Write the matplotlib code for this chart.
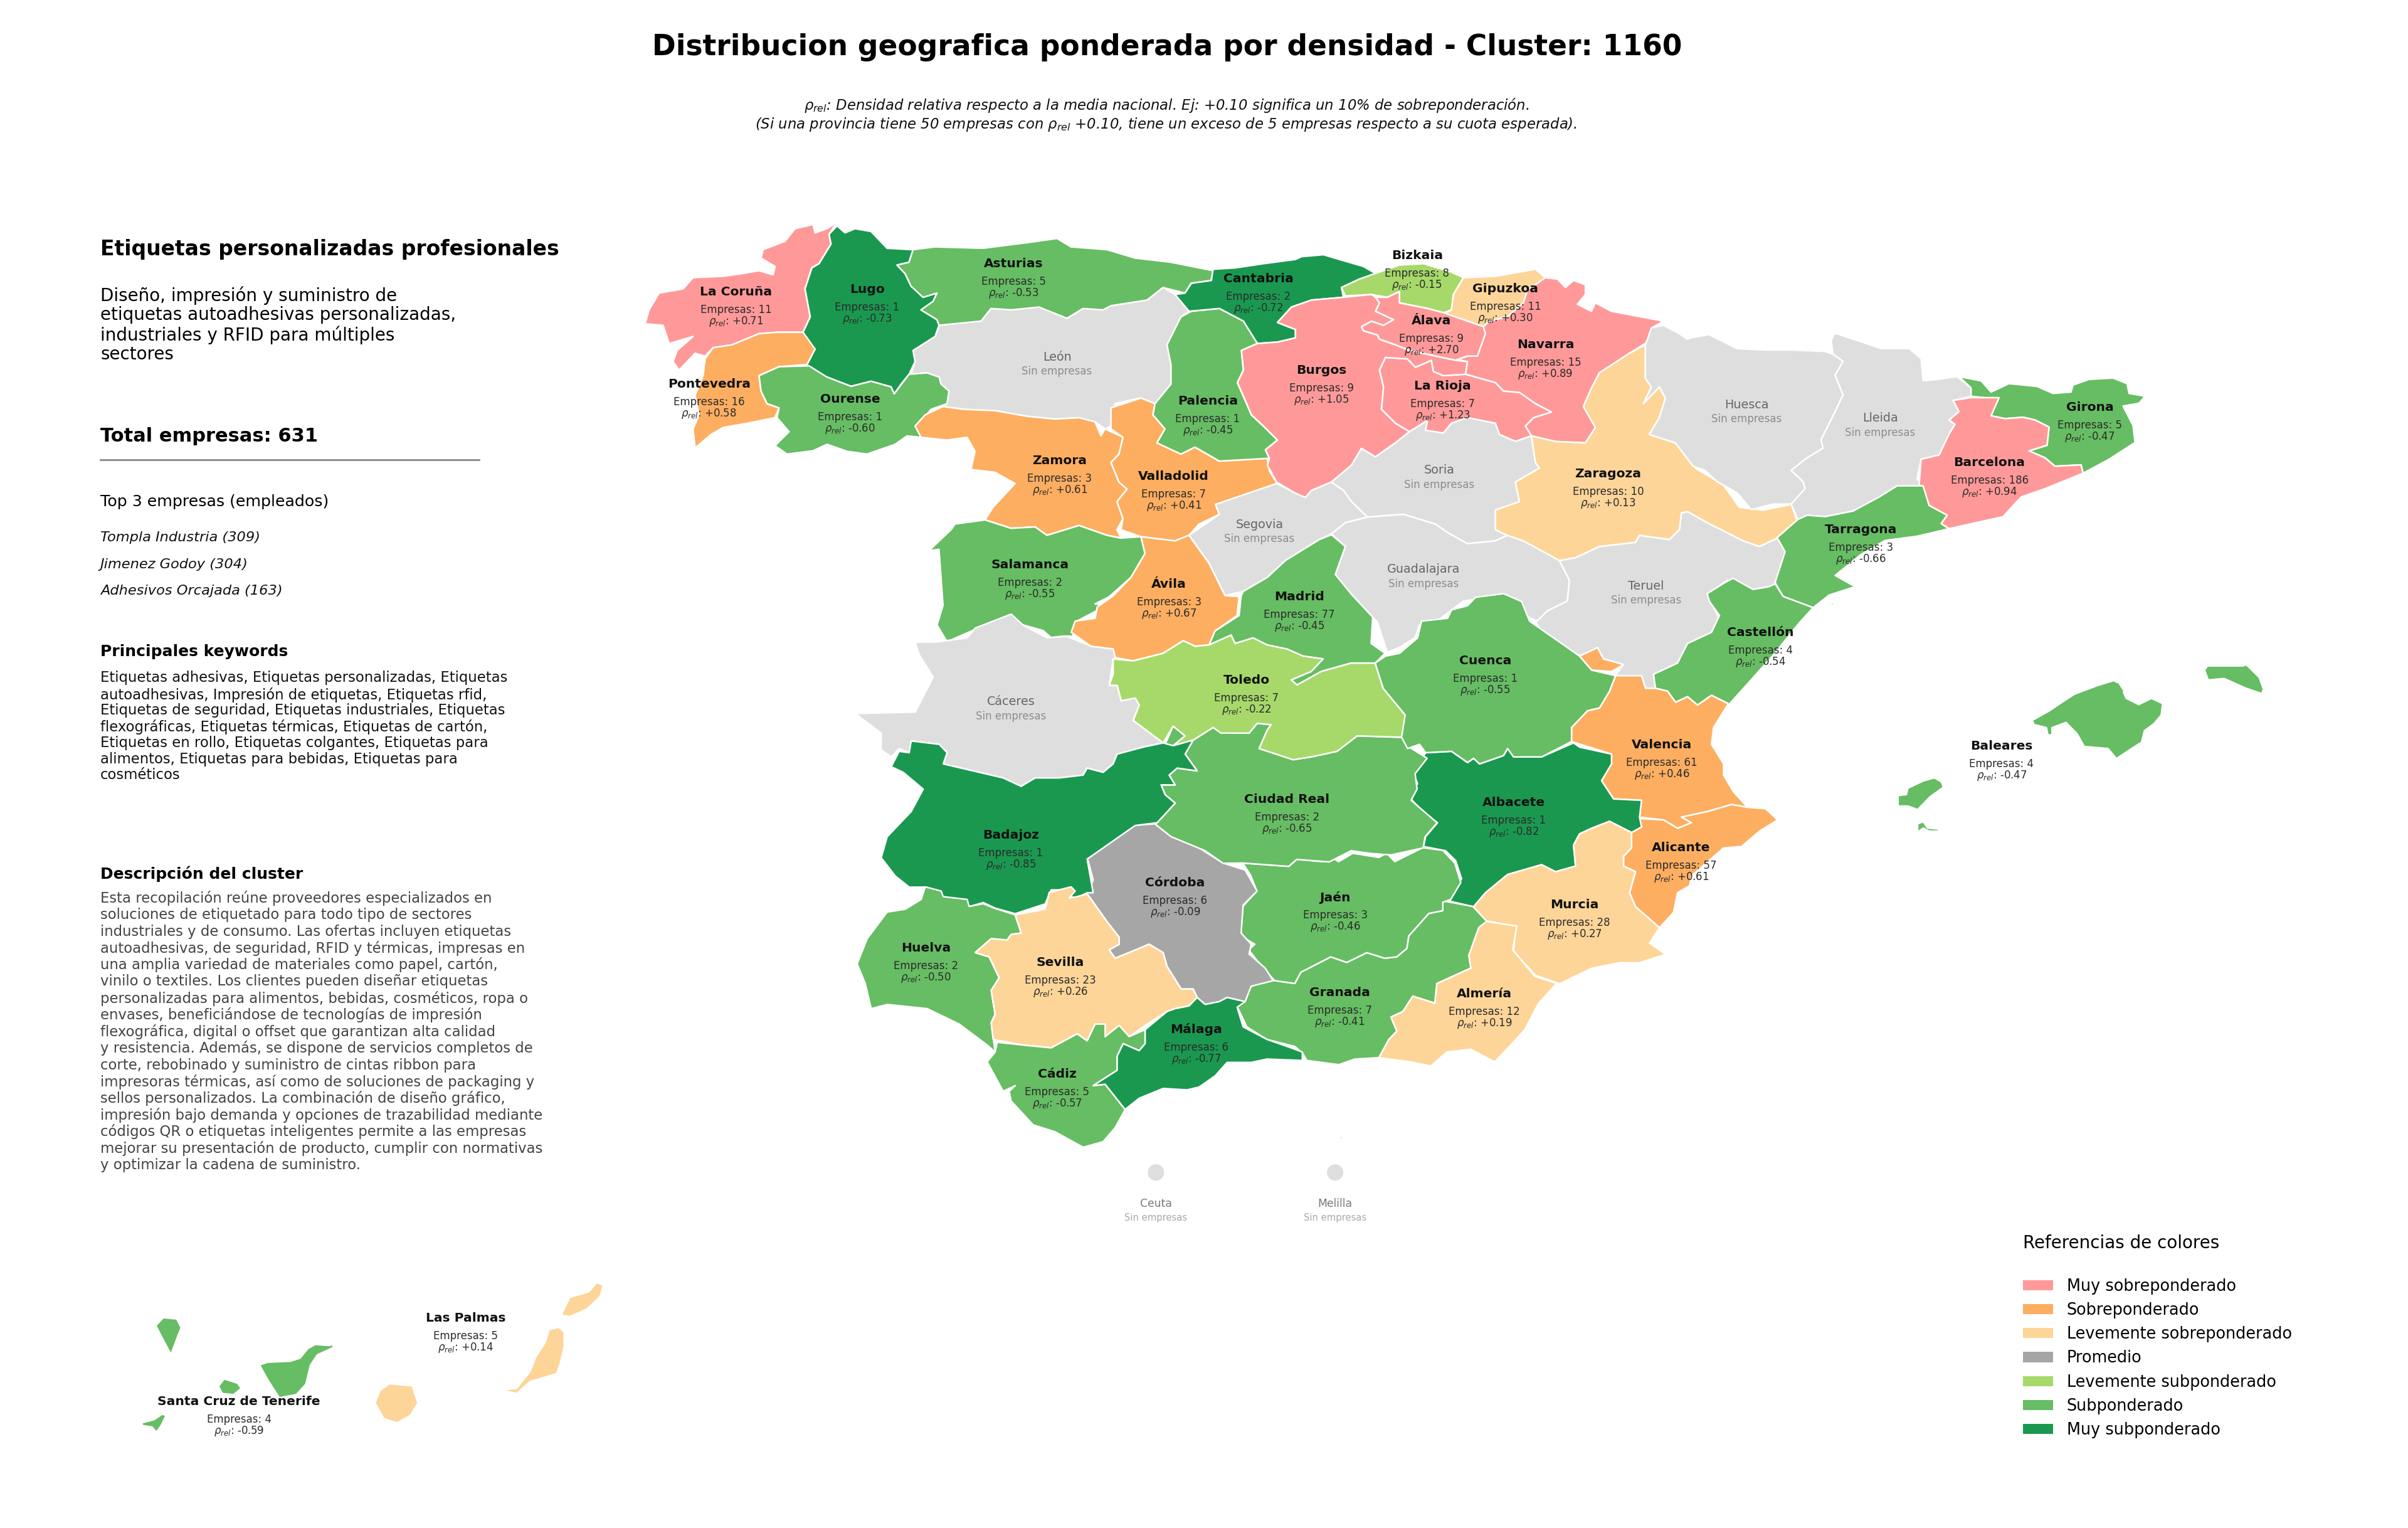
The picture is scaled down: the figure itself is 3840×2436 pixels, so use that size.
import matplotlib
matplotlib.use("Agg")
import matplotlib.pyplot as plt
from matplotlib.patches import Polygon, Patch, Circle

# ---------------- data ----------------
PROVINCES = ["La Coruña","Lugo","Asturias","Pontevedra","Ourense","Zamora","Valladolid","Palencia","Salamanca","Ávila",
             "Cantabria","Bizkaia","Gipuzkoa","Álava","Navarra","Burgos","La Rioja","Zaragoza","Madrid","Girona",
             "Barcelona","Tarragona","Castellón","Toledo","Ciudad Real","Badajoz","Córdoba","Cuenca","Valencia","Albacete",
             "Alicante","Murcia","Almería","Jaén","Huelva","Sevilla","Granada","Málaga","Cádiz","Baleares",
             "Las Palmas","Santa Cruz de Tenerife"]
EMPRESAS = [11,1,5,16,1,3,7,1,2,3,
            2,8,11,9,15,9,7,10,77,5,
            186,3,4,7,2,1,6,1,61,1,
            57,28,12,3,2,23,7,6,5,4,
            5,4]
RHO = [0.71,-0.73,-0.53,0.58,-0.60,0.61,0.41,-0.45,-0.55,0.67,
       -0.72,-0.15,0.30,2.70,0.89,1.05,1.23,0.13,-0.45,-0.47,
       0.94,-0.66,-0.54,-0.22,-0.65,-0.85,-0.09,-0.55,0.46,-0.82,
       0.61,0.27,0.19,-0.46,-0.50,0.26,-0.41,-0.77,-0.57,-0.47,
       0.14,-0.59]
EMPTY = ["León","Huesca","Lleida","Soria","Segovia","Guadalajara","Teruel","Cáceres"]
CATEGORIES = ["Muy sobreponderado","Sobreponderado","Levemente sobreponderado","Promedio",
              "Levemente subponderado","Subponderado","Muy subponderado"]
COLORS = ["#FF9999","#FDAE61","#FED598","#A6A6A6","#A6D96A","#66BD63","#1A9850"]
THRESHOLDS = [0.7,0.4,0.1,-0.1,-0.4,-0.7]
NO_DATA = "#DEDEDE"

TITLE = "Distribucion geografica ponderada por densidad - Cluster: 1160"
SUB1 = r"$\rho_{rel}$: Densidad relativa respecto a la media nacional. Ej: +0.10 significa un 10% de sobreponderación."
SUB2 = r"(Si una provincia tiene 50 empresas con $\rho_{rel}$ +0.10, tiene un exceso de 5 empresas respecto a su cuota esperada)."
HEAD = "Etiquetas personalizadas profesionales"
TAGLINE = ["Diseño, impresión y suministro de","etiquetas autoadhesivas personalizadas,","industriales y RFID para múltiples","sectores"]
TOTAL = "Total empresas: 631"
TOP_HEAD = "Top 3 empresas (empleados)"
TOP3 = ["Tompla Industria (309)","Jimenez Godoy (304)","Adhesivos Orcajada (163)"]
KW_HEAD = "Principales keywords"
KEYWORDS = ["Etiquetas adhesivas, Etiquetas personalizadas, Etiquetas","autoadhesivas, Impresión de etiquetas, Etiquetas rfid,",
            "Etiquetas de seguridad, Etiquetas industriales, Etiquetas","flexográficas, Etiquetas térmicas, Etiquetas de cartón,",
            "Etiquetas en rollo, Etiquetas colgantes, Etiquetas para","alimentos, Etiquetas para bebidas, Etiquetas para","cosméticos"]
DESC_HEAD = "Descripción del cluster"
DESC = ["Esta recopilación reúne proveedores especializados en","soluciones de etiquetado para todo tipo de sectores",
        "industriales y de consumo. Las ofertas incluyen etiquetas","autoadhesivas, de seguridad, RFID y térmicas, impresas en",
        "una amplia variedad de materiales como papel, cartón,","vinilo o textiles. Los clientes pueden diseñar etiquetas",
        "personalizadas para alimentos, bebidas, cosméticos, ropa o","envases, beneficiándose de tecnologías de impresión",
        "flexográfica, digital o offset que garantizan alta calidad","y resistencia. Además, se dispone de servicios completos de",
        "corte, rebobinado y suministro de cintas ribbon para","impresoras térmicas, así como de soluciones de packaging y",
        "sellos personalizados. La combinación de diseño gráfico,","impresión bajo demanda y opciones de trazabilidad mediante",
        "códigos QR o etiquetas inteligentes permite a las empresas","mejorar su presentación de producto, cumplir con normativas",
        "y optimizar la cadena de suministro."]

# ---------------- province outlines ----------------
FRAMES = {"A":(1000,340,1000/1568,700/1568),"B":(1900,340,1000/1568,700/1568),"C":(2700,500,1000/1568,700/1568),
          "D":(1300,950,1000/1568,700/1568),"E":(2200,950,1000/1568,700/1568),"F":(1300,1300,1000/1568,700/1568),
          "G":(1950,1300,1000/1568,700/1568),"H":(100,1980,950/1568,1/3),"I":(3000,1000,700/1568,1/3)}

OUTLINES = {
"León":[[("A",[(780,400),(885,385),(910,340),(960,345),(1030,335),(1100,375),(1140,340),(1190,345),(1210,330),(1300,310),(1340,265),(1370,290),(1405,350),(1385,370),(1350,470),(1360,540),(1360,610),(1320,680),(1280,660),(1220,680),(1210,760),(1195,770),(1170,745),(1130,730),(1070,735),(1000,725),(920,705),(840,700),(790,690),(805,635),(785,610),(780,585),(750,570),(710,575),(720,530),(715,490),(770,440)])]],
"La Coruña":[[("A",[(525,32),(505,75),(510,110),(480,180),(462,195),(445,270),(458,370),(440,425),(375,425),(330,430),(262,470),(215,480),(195,510),(170,500),(130,560),(115,530),(125,490),(165,440),(105,465),(90,400),(45,395),(55,345),(80,285),(140,270),(165,230),(240,225),(290,215),(330,205),(365,220),(370,190),(335,160),(340,130),(395,100),(420,55),(465,40),(470,70),(500,55)])]],
"Lugo":[[("A",[(525,45),(545,70),(570,55),(610,65),(650,125),(715,130),(705,175),(675,185),(695,215),(710,260),(740,300),(775,285),(765,315),(735,345),(775,380),(780,400),(770,440),(715,490),(720,530),(705,575),(685,610),(668,645),(660,620),(610,600),(560,618),(500,585),(455,560),(450,540),(470,485),(440,445),(440,425),(458,370),(445,270),(462,195),(480,180),(510,110),(505,75)])]],
"Pontevedra":[[("A",[(440,425),(470,485),(450,540),(380,548),(330,580),(335,635),(350,680),(380,695),(370,730),(300,750),(240,765),(210,790),(170,838),(165,770),(180,720),(170,650),(190,580),(195,520),(215,480),(262,470),(330,430),(375,425)])]],
"Ourense":[[("A",[(455,545),(500,585),(560,618),(610,600),(660,620),(668,645),(705,575),(750,570),(780,585),(785,610),(805,635),(800,680),(760,700),(725,760),(735,800),(700,795),(670,825),(600,860),(550,850),(500,825),(465,848),(400,860),(370,830),(405,780),(375,730),(380,695),(350,680),(335,635),(330,580),(380,548)])]],
"Asturias":[[("A",[(715,130),(770,120),(890,125),(1000,105),(1075,90),(1110,120),(1200,130),(1270,160),(1360,175),(1465,205),(1460,240),(1410,250),(1395,285),(1340,265),(1300,310),(1210,330),(1190,345),(1140,340),(1100,375),(1030,335),(960,345),(910,340),(885,385),(780,400),(775,380),(735,345),(765,315),(775,285),(740,300),(710,260),(695,215),(675,185),(705,175)])]],
"Zamora":[[("A",[(790,690),(840,700),(920,705),(1000,725),(1070,735),(1130,730),(1170,745),(1185,795),(1195,770),(1240,800),(1230,860),(1210,890),(1230,960),(1250,985),(1225,1030),(1240,1090),(1225,1130),(1235,1160),(1200,1150),(1130,1115),(1050,1150),(1020,1120),(960,1125),(895,1095),(915,1050),(970,965),(920,925),(860,915),(870,850),(850,800),(800,810),(735,800),(720,760),(745,720)])]],
"Valladolid":[[("A",[(1210,770),(1210,695),(1285,660),(1320,680),(1315,720),(1345,770),(1325,820),(1385,860),(1420,835),(1480,885),(1601,875),(1606,920),(1623,960),(1621,985),(1511,1025),(1471,1040),(1481,1075),(1430,1110),(1405,1150),(1370,1170),(1285,1155),(1235,1130),(1240,1090),(1225,1030),(1250,985),(1230,960),(1210,890),(1230,860),(1240,800)])]],
"Palencia":[[("A",[(1385,370),(1411,350),(1481,340),(1541,385),(1576,465),(1536,490),(1541,560),(1526,605),(1546,670),(1561,720),(1591,760),(1626,810),(1596,845),(1606,875),(1481,885),(1420,835),(1385,860),(1325,820),(1345,770),(1315,720),(1320,680),(1360,610),(1360,540),(1350,470)])]],
"Salamanca":[[("A",[(895,1095),(960,1125),(1020,1120),(1050,1150),(1130,1115),(1200,1150),(1235,1160),(1285,1155),(1295,1215),(1260,1300),(1205,1370),(1170,1395),(1200,1400),(1120,1460),(1115,1510),(1090,1510),(1060,1515),(1040,1490),(990,1470),(960,1435),(880,1480),(800,1530),(775,1470),(790,1400),(780,1200),(755,1205),(810,1130),(820,1110)])]],
"Cantabria":[[("B",[(54,200),(110,195),(180,180),(260,165),(275,155),(330,148),(370,165),(430,190),(460,215),(420,235),(375,265),(380,300),(300,310),(250,335),(215,390),(260,415),(260,445),(215,460),(165,465),(130,385),(70,340),(-6,350),(-41,290),(-16,285),(0,250),(50,240)])]],
"Bizkaia":[[("B",[(460,215),(520,185),(580,180),(650,210),(680,230),(655,290),(650,345),(630,355),(590,340),(520,320),(520,280),(490,300),(450,290),(385,295),(375,265),(420,235)])],
           [("B",[(485,355),(500,340),(520,365),(495,368)])]],
"Gipuzkoa":[[("B",[(680,230),(760,225),(860,200),(885,230),(840,275),(830,320),(790,370),(745,385),(730,405),(680,380),(630,360),(650,345),(655,290)])]],
"Navarra":[[("B",[(885,230),(915,235),(935,265),(955,240),(985,255),(985,290),(965,325),(1000,350),(1010,320),(1050,350),(1180,385),(1150,410),(1140,460),(1095,500),(1020,570),(1000,625),(980,690),(1010,765),(985,820),(910,815),(850,795),(835,760),(855,730),(900,710),(860,680),(820,640),(780,635),(760,605),(685,575),(690,530),(660,520),(690,505),(715,510),(730,430),(730,405),(745,385),(790,370),(830,320),(840,275)])]],
"Álava":[[("B",[(520,320),(590,340),(630,355),(680,380),(730,405),(735,430),(715,510),(690,510),(660,525),(610,510),(545,490),(510,470),(470,450),(465,435),(430,420),(425,405),(450,385),(480,400),(505,380),(460,350),(470,320),(460,300),(490,300),(520,280)])]],
"La Rioja":[[("B",[(485,515),(540,520),(560,550),(600,525),(605,565),(630,580),(685,575),(760,605),(780,635),(820,640),(860,680),(900,710),(855,730),(835,760),(850,795),(810,815),(770,790),(760,750),(725,740),(690,730),(650,750),(630,785),(585,775),(590,740),(545,780),(510,750),(475,700),(480,620),(470,560)])]],
"Burgos":[[("B",[(450,290),(380,300),(300,310),(250,335),(215,390),(260,415),(260,445),(215,460),(165,465),(125,490),(130,560),(115,605),(135,670),(150,720),(180,760),(215,810),(185,845),(195,875),(190,900),(213,960),(260,1000),(285,1015),(300,990),(350,960),(400,900),(425,840),(460,870),(510,820),(545,780),(510,750),(475,700),(480,620),(470,560),(485,515),(540,520),(560,550),(600,525),(605,565),(630,580),(685,575),(690,530),(660,525),(610,510),(545,490),(510,470),(470,450),(465,435),(430,420),(425,405),(450,385),(480,400),(505,380),(460,350),(470,320),(460,300)])]],
"Soria":[[("B",[(545,780),(590,740),(585,775),(630,785),(650,750),(690,730),(725,740),(760,750),(770,790),(810,815),(850,795),(860,890),(870,910),(810,960),(820,1030),(760,1060),(760,1130),(790,1150),(760,1170),(690,1180),(640,1140),(610,1110),(530,1075),(440,1085),(400,1030),(380,990),(350,960),(400,900),(425,840),(460,870),(510,820)])]],
"Segovia":[[("B",[(213,965),(260,1000),(285,1015),(300,990),(350,960),(380,990),(400,1030),(440,1085),(385,1105),(350,1145),(320,1165),(235,1240),(190,1300),(130,1350),(84,1365),(44,1250),(-6,1150),(70,1075),(60,1040),(100,1020)])]],
"Ávila":[[("A",[(1285,1155),(1370,1170),(1405,1150),(1455,1250),(1495,1365),(1536,1370)]),("D",[(1060,0),(1055,70),(1000,125),(985,175),(950,180),(920,160),(870,205),(795,232),(750,220),(745,190),(690,180),(640,130),(650,90),(700,80),(705,40),(745,0)]),("A",[(1260,1300),(1295,1215)])]],
"Madrid":[[("B",[(350,1148),(385,1190),(360,1290),(400,1360),(465,1460)]),("D",[(1395,50),(1390,170),(1425,205),(1400,240),(1340,240),(1265,270),(1205,318),(1190,300),(1240,270),(1270,225),(1220,215),(1180,190),(1130,175),(1095,150),(1050,170),(1040,140),(985,175),(1000,125),(1060,70),(1065,0)]),("B",[(130,1350),(190,1300),(235,1240),(320,1165)])]],
"Guadalajara":[[("B",[(350,1145),(385,1105),(440,1085),(530,1075),(610,1110),(640,1140),(690,1180),(760,1170),(790,1150),(830,1165),(920,1240),(945,1310),(940,1385),(890,1420),(870,1460),(810,1420),(770,1365),(680,1385),(620,1450),(570,1470),(559,1516),(519,1551),(490,1568),(465,1460),(400,1360),(360,1290),(385,1190)])]],
"Teruel":[[("B",[(920,1240),(960,1230),(1020,1190),(1110,1175),(1120,1150),(1195,1165),(1220,1130),(1225,1070),(1240,1065),(1290,1105),(1380,1170),(1420,1190),(1465,1160),(1490,1220),(1470,1325),(1400,1345),(1340,1310),(1290,1360),(1320,1450)]),("E",[(850,70),(830,130),(770,170),(745,240),(685,280),(690,330),(665,330),(655,285),(590,285),(610,245),(560,225),(545,185),(500,215),(470,185),(415,140),(390,95)]),("B",[(890,1420),(940,1385),(945,1310)])]],
"Zaragoza":[[("B",[(850,795),(910,815),(985,820),(1010,765),(980,690),(1000,625),(1020,570),(1095,500),(1135,470),(1135,590),(1150,620),(1130,680),(1170,620),(1185,660),(1170,730),(1145,790),(1210,820),(1250,870),(1260,910),(1330,970),(1370,1050),(1430,1060),(1500,1040),(1515,1100),(1490,1140),(1465,1160),(1420,1190),(1380,1170),(1290,1105),(1240,1065),(1225,1070),(1220,1130),(1195,1165),(1120,1150),(1110,1175),(1020,1190),(960,1230),(920,1240),(830,1170),(790,1150),(760,1130),(760,1060),(820,1030),(810,960),(870,910),(860,890)])]],
"Huesca":[[("B",[(1135,470),(1150,410),(1180,400),(1220,430),(1240,450)]),("C",[(0,85),(40,75),(110,125),(180,130),(250,130),(330,135),(350,145),(375,170),(355,220),(375,290),(355,350),(320,450),(325,480),(280,520),(245,560),(275,600),(280,625),(250,680),(200,680),(145,700),(110,640),(60,600),(30,560),(0,545)]),("B",[(1210,820),(1145,790),(1170,730),(1185,660),(1170,620),(1130,680),(1150,620),(1135,590)])]],
"Lleida":[[("C",[(345,95),(355,70),(430,105),(470,125),(540,125),(570,160),(575,240),(610,235),(660,225),(695,265),(695,295),(650,310),(665,350),(640,380),(655,395),(640,430),(630,480),(615,505),(570,520),(560,590),(575,615),(510,615),(465,655),(400,705),(330,725),(285,720),(262,735),(245,680),(280,625),(275,600),(245,560),(280,520),(325,480),(320,450),(355,350),(375,290),(355,220),(375,170),(350,145)])]],
"Girona":[[("C",[(665,225),(720,240),(745,280),(790,250),(860,260),(900,285),(945,280),(950,255),(990,235),(1050,230),(1085,250),(1090,285),(1130,295),(1115,320),(1075,330),(1100,400),(1105,460),(1040,520),(975,570),(970,540),(905,545),(880,515),(840,490),(885,470),(890,405),(855,380),(825,370),(780,375),(745,365),(760,305),(695,295),(695,265)])]],
"Barcelona":[[("C",[(650,310),(695,300),(765,300),(745,365),(780,375),(825,370),(855,380),(890,405),(885,470),(840,490),(880,515),(905,545),(970,540),(975,570),(880,625),(820,655),(775,725),(640,768),(620,750),(635,720),(590,685),(565,615),(570,520),(615,505),(640,430),(655,395),(640,380),(665,350)])]],
"Tarragona":[[("C",[(262,735),(285,720),(330,725),(400,705),(465,655),(510,615),(575,615),(590,685),(635,720),(620,750),(640,768),(560,795),(480,810),(420,860),(355,935),(405,975),(340,1005),(300,1050),(225,1010),(205,960),(230,850),(210,800)])],
             [("C",[(330,1040),(355,1030),(350,1040)])]],
"Castellón":[[("C",[(205,965),(225,1010),(300,1050),(265,1105),(200,1220),(150,1300),(90,1395)]),("E",[(830,355),(795,390),(770,360),(740,380),(720,340),(690,330),(685,280),(745,240),(770,170),(830,130),(850,70),(825,20)]),("C",[(35,1000),(80,960),(100,945),(150,985),(190,975)])]],
"Valencia":[[("E",[(590,285),(655,285),(665,330),(690,330),(720,340),(740,380),(770,360),(795,390),(830,355),(872,385),(835,470),(830,530),(860,600),(860,640),(885,700),(920,755),(880,745),(820,770),(755,790),(780,810),(745,830),(710,800),(650,790),(655,730),(585,725),(555,660),(580,600),(580,565),(480,520),(480,470),(520,410),(550,400),(575,340)])],
            [("E",[(500,215),(545,185),(560,225),(610,245),(580,270),(530,265)])]],
"Alicante":[[("E",[(650,795),(710,800),(745,830),(780,810),(755,790),(820,770),(880,745),(920,755),(965,760),(995,800),(950,840),(905,895),(860,900),(780,1000),(775,1035),(745,1060),(735,1130),(700,1185),(640,1110),(625,1060),(640,985),(610,965),(610,930),(630,900),(630,845),(655,825)])]],
"Albacete":[[("E",[(115,560),(180,555),(220,595),(235,580),(250,600),(310,570),(320,545),(335,575),(405,575),(485,525),(500,540),(580,565),(580,600),(555,660),(585,725),(655,730),(650,790),(655,825),(630,845),(575,805),(530,830),(500,850),(485,890),(490,965),(440,985),(405,960),(320,995),(265,1060),(235,1110),(175,1090),(205,1010),(190,945),(165,910),(110,895),(115,860),(145,810),(115,780),(75,720),(95,670),(85,635)])]],
"Murcia":[[("E",[(575,805),(630,845),(630,900),(610,930),(610,965),(640,985),(625,1060),(640,1110),(700,1185),(675,1240),(715,1280),(650,1310),(600,1310),(530,1330),(450,1385),(390,1355),(335,1270),(340,1180),(265,1160),(235,1110),(265,1060),(320,995),(405,960),(440,985),(490,965),(485,890),(500,850),(530,830)])]],
"Almería":[[("G",[(657,378),(735,395),(725,480),(780,575),(835,600),(790,670),(755,765),(720,820),(680,880),(620,835),(560,845),(520,895),(470,880),(390,865),(415,800),(435,770),(420,720),(450,700),(475,645),(530,670),(535,600),(620,545),(615,500),(640,400)])]],
"Granada":[[("G",[(130,590),(180,600),(195,560),(270,505),(310,525),(360,490),(405,510),(435,505),(460,475),(465,430),(515,350),(550,340),(550,305),(625,325),(660,378),(640,400),(615,500),(620,545),(535,600),(530,670),(475,645),(450,700),(420,720),(435,770),(415,800),(390,865),(330,870),(290,890),(210,875),(200,850),(180,825),(110,800),(60,755),(35,680),(60,620),(100,590)])]],
"Jaén":[[("G",[(50,170),(165,182),(185,157),(250,165),(265,145),(290,165),(325,135),(390,150),(410,135),(430,165),(465,140),(500,115),(550,125),(580,170),(595,240),(570,300),(550,310),(550,340),(515,350),(465,430),(460,475),(435,505),(405,510),(360,490),(310,525),(270,505),(195,560),(180,600),(130,590),(100,545),(65,480),(80,460),(45,430),(50,325),(85,270),(70,215)])]],
"Córdoba":[[("F",[(800,35),(850,30),(890,70),(940,95),(975,130),(1020,170),(1075,195),(1105,270),(1070,320),(1065,420),(1090,460),(1085,495),(1125,545),(1145,590),(1090,610),(1075,665),(1030,650),(1010,665),(975,675),(955,650),(945,620),(915,620),(880,540),(870,490),(835,460),(810,475),(750,510),(735,480),(760,460),(760,435),(730,380),(680,280),(695,230),(680,150),(740,90)])]],
"Ciudad Real":[[("D",[(945,515),(995,470),(1015,490),(1085,490),(1105,455),(1140,460),(1130,480),(1110,545),(1195,585),(1240,575),(1305,555),(1355,500),(1470,505),(1480,535),(1530,580),(1500,635),(1505,690),(1490,730),(1555,810),(1525,860),(1520,900),(1440,925),(1390,920),(1340,910),(1285,950),(1204,941),(1184,966),(1069,954),(1020,955),(975,910),(890,860),(850,815),(855,810),(900,740),(875,710),(865,675),(900,675),(885,640),(905,615),(955,625),(925,565)])],
               [("D",[(875,530),(895,465),(925,500),(895,535)])]],
"Toledo":[[("D",[(745,225),(795,232),(870,205),(920,160),(950,180),(985,175),(1040,140),(1050,170),(1095,150),(1130,175),(1180,190),(1220,215),(1270,225),(1240,270),(1190,300),(1205,318),(1265,270),(1340,240),(1400,240),(1420,330),(1475,425),(1470,505),(1355,500),(1305,555),(1240,575),(1195,585),(1110,545),(1130,480),(1140,460),(1105,455),(1085,490),(1015,490),(995,470),(945,515),(895,535),(925,500),(895,465),(870,525),(795,445),(810,390),(800,365),(765,375),(755,320),(735,320),(745,280)])]],
"Cuenca":[[("E",[(15,215),(50,205),(95,150),(105,90),(170,80),(180,50),(220,35),(240,5),(310,-8),(355,20),(375,90),(415,130),(470,185),(500,215),(530,265),(590,285),(575,340),(550,400),(520,410),(480,470),(480,520),(405,575),(335,575),(320,545),(310,570),(250,600),(235,580),(220,595),(180,555),(115,560),(100,530),(70,545),(55,505),(64,425),(9,330),(-11,240)])]],
"Cáceres":[[("D",[(250,165),(300,165),(380,150),(400,115),(490,65),(520,105),(580,150),(630,145),(690,180),(745,190),(750,220),(745,225),(735,320),(755,320),(765,375),(800,365),(810,390),(795,445),(870,525),(820,540),(755,565),(745,600),(720,630),(680,615),(670,640),(610,650),(550,650),(515,680),(470,650),(395,625),(320,600),(330,560),(310,530),(240,518),(235,560),(210,545),(190,575),(165,550),(165,490),(100,420),(250,415),(295,290),(260,210)])]],
"Badajoz":[[("D",[(240,518),(310,530),(330,560),(320,600),(395,625),(470,650),(515,680),(550,650),(610,650),(670,640),(680,615),(720,630),(745,600),(755,565),(820,540),(870,525),(895,535),(945,515),(925,565),(955,625),(905,615),(885,640),(900,675),(865,675),(875,710),(900,740),(855,810),(800,820),(740,880),(680,940),(695,1060),(680,1060),(645,1085),(635,1050),(590,1050),(575,1100),(500,1135),(450,1115),(420,1095),(385,1110),(320,1075),(275,1040),(235,1040),(200,1000),(165,935),(180,860),(240,770),(270,690),(220,630),(190,610),(210,555),(235,560)])]],
"Huelva":[[("F",[(275,255),(315,270),(320,290),(380,300),(385,325),(420,315),(445,330),(500,355),(515,420),(490,425),(480,445),(440,440),(400,490),(435,505),(460,580),(440,625),(450,710),(440,740),(450,845),(430,820),(360,745),(280,690),(180,675),(140,690),(125,600),(105,530),(130,440),(180,345),(225,335),(265,300)])]],
"Sevilla":[[("F",[(500,355),(575,335),(585,275),(640,255),(650,270),(635,295),(655,290),(680,280),(730,380),(760,435),(760,460),(735,480),(750,510),(810,475),(835,460),(870,490),(880,540),(915,620),(945,620),(955,650),(935,680),(900,690),(880,700),(825,750),(785,790),(760,750),(725,790),(700,745),(680,805),(655,780),(590,830),(520,820),(445,800),(440,740),(450,710),(440,625),(460,580),(435,505),(400,490),(440,440),(480,445),(490,425),(515,420)])]],
"Cádiz":[[("F",[(455,810),(520,820),(590,830),(655,780),(680,805),(700,745),(725,745),(725,790),(760,750),(785,790),(825,765),(825,815),(810,840),(770,815),(755,860),(755,910),(695,965),(725,960),(775,1050),(750,1115),(720,1165),(670,1185),(600,1130),(545,1105),(490,1020),(485,985),(500,965),(470,985),(430,880),(450,845)])]],
"Málaga":[[("F",[(825,765),(880,700),(900,690),(935,680),(955,650),(975,675),(1010,665),(1030,650),(1075,665),(1055,685),(1070,755),(1130,800),(1190,830),(1218,845),(1218,875),(1130,870),(1090,882),(1030,882),(1000,930),(960,970),(930,980),(870,975),(810,1010),(775,1050),(725,960),(695,965),(755,910),(755,860),(770,815),(810,840),(825,815)])]],
"Baleares":[[("I",[(540,445),(600,400),(650,355),(690,320),(770,280),(830,255),(845,265),(892,240),(850,268),(865,300),(890,285),(865,310),(875,340),(920,370),(965,340),(1005,365),(1000,420),(975,460),(940,495),(930,550),(900,575),(840,628),(810,580),(725,570),(700,510),(660,455),(610,480),(610,515),(595,515),(590,480),(545,465)])],
            [("I",[(1155,205),(1165,185),(1230,185),(1290,185),(1305,180),(1350,240),(1365,295),(1360,318),(1300,290),(1225,245),(1168,252)])],
            [("I",[(60,805),(90,800),(95,770),(150,735),(190,720),(215,740),(222,765),(175,810),(130,872),(95,855),(60,855)])],
            [("I",[(130,940),(150,930),(165,960),(205,965),(205,975),(170,975),(150,960),(130,980)])],
            [("I",[(783,703),(793,700),(793,708)])]],
"Santa Cruz de Tenerife":[[("H",[(265,362),(300,368),(312,410),(303,450),(285,538),(265,470),(245,400)])],
            [("H",[(518,588),(540,575),(600,570),(625,555),(645,510),(665,490),(700,495),(712,490),(712,505),(670,540),(652,590),(640,680),(615,730),(570,745),(540,660)])],
            [("H",[(425,655),(460,675),(470,700),(450,730),(420,725),(410,690)])],
            [("H",[(208,865),(240,850),(262,823),(272,830),(260,875),(247,910),(235,885),(210,878)])]],
"Las Palmas":[[("H",[(860,678),(920,688),(935,770),(915,830),(880,865),(845,845),(822,770),(835,710)])],
            [("H",[(1280,420),(1305,408),(1320,430),(1320,500),(1310,580),(1300,630),(1230,668),(1195,725),(1155,708),(1195,700),(1230,620),(1245,550),(1270,480)])],
            [("H",[(1405,195),(1423,205),(1415,260),(1380,320),(1335,357),(1312,350),(1325,300),(1335,265),(1385,238)])],
            [("H",[(1400,180),(1405,168),(1410,182)])]],
"Ceuta":[[("F",[(830,1103),(845,1108),(838,1112)])]],
"Melilla":[[("F",[(1312,1147),(1318,1143),(1320,1155),(1313,1157)])]],
}

LABELS = {"La Coruña":("A",272,278),"Lugo":("A",600,268),"Asturias":("A",967,177),"Pontevedra":("A",205,607),"Ourense":("A",558,660),
 "León":("A",1075,510),"Zamora":("A",1082,880),"Valladolid":("A",1367,936),"Palencia":("A",1452,668),"Salamanca":("A",1007,1252),"Ávila":("A",1355,1322),
 "Cantabria":("B",167,230),"Bizkaia":("B",564,148),"Gipuzkoa":("B",785,267),"Álava":("B",600,381),"Navarra":("B",885,467),"Burgos":("B",325,558),
 "La Rioja":("B",628,613),"Soria":("B",620,915),"Zaragoza":("B",1042,927),"Huesca":("B",1388,680),"Guadalajara":("B",580,1268),"Teruel":("B",1137,1328),
 "Segovia":("B",170,1108),"Madrid":("B",270,1367),"Girona":("C",992,331),"Barcelona":("C",741,529),"Lleida":("C",468,370),"Tarragona":("C",420,768),
 "Castellón":("C",168,1135),"Cáceres":("D",489,375),"Toledo":("D",1078,297),"Ciudad Real":("D",1180,724),"Badajoz":("D",489,851),"Córdoba":("D",900,1022),
 "Cuenca":("E",264,228),"Valencia":("E",706,529),"Albacete":("E",335,734),"Alicante":("E",754,895),"Murcia":("E",488,1100),"Almería":("E",262,1418),
 "Jaén":("F",1300,289),"Huelva":("F",277,471),"Sevilla":("F",613,522),"Granada":("F",1311,630),"Málaga":("F",953,761),"Cádiz":("F",605,920),
 "Baleares":("I",430,565),"Las Palmas":("H",1061,360),"Santa Cruz de Tenerife":("H",464,760)}
CITIES = {"Ceuta":("F",852,1275,1383),"Melilla":("F",1300,1275,1383)}

def to_px(frame, x, y):
    x0, y0, sx, sy = FRAMES[frame]
    return x0 + x*sx, y0 + y*sy

def color_of(r):
    for t, c in zip(THRESHOLDS, COLORS):
        if r >= t:
            return c
    return COLORS[-1]

fig = plt.figure(figsize=(19.2, 12.18), dpi=200, facecolor="white")
ax = fig.add_axes([0, 0, 1, 1])
ax.set_xlim(0, 3840); ax.set_ylim(2436, 0); ax.axis("off")

fill = {n: NO_DATA for n in EMPTY + list(CITIES)}
fill.update({n: color_of(r) for n, r in zip(PROVINCES, RHO)})
for name, polys in OUTLINES.items():
    for poly in polys:
        pts = [to_px(fr, x, y) for fr, seg in poly for x, y in seg]
        ax.add_patch(Polygon(pts, closed=True, facecolor=fill[name], edgecolor="white", linewidth=0.9, joinstyle="round"))

NAME_FS, INFO_FS = 7.3, 6.0
DY = 1.5
for name, emp, r in zip(PROVINCES, EMPRESAS, RHO):
    fr, x, y = LABELS[name]
    px, py = to_px(fr, x, y)
    py += DY
    ax.text(px, py, name, ha="center", va="center", fontsize=NAME_FS, fontweight="bold", color="#111111")
    ax.text(px, py+28.5, f"Empresas: {emp}", ha="center", va="center", fontsize=INFO_FS, color="#2a2a2a")
    ax.text(px, py+47, r"$\rho_{rel}$: " + f"{r:+.2f}", ha="center", va="center", fontsize=INFO_FS, color="#2a2a2a")
for name in EMPTY:
    fr, x, y = LABELS[name]
    px, py = to_px(fr, x, y)
    ax.text(px, py+DY, name, ha="center", va="center", fontsize=6.9, color="#666666")
    ax.text(px, py+DY+23, "Sin empresas", ha="center", va="center", fontsize=6.0, color="#8c8c8c")
for name, (fr, x, yd, yl) in CITIES.items():
    cx, cy = to_px(fr, x, yd)
    ax.add_patch(Circle((cx, cy), 13, facecolor=NO_DATA, edgecolor="none"))
    lx, ly = to_px(fr, x, yl)
    ax.text(lx, ly+DY, name, ha="center", va="center", fontsize=6.2, color="#777777")
    ax.text(lx, ly+DY+23, "Sin empresas", ha="center", va="center", fontsize=5.3, color="#a8a8a8")

# header
ax.text(1861, 75, TITLE, ha="center", va="center", fontsize=16.4, fontweight="bold", color="black")
ax.text(1860, 168, SUB1, ha="center", va="center", fontsize=8.2, style="italic", color="#111111")
ax.text(1860, 199, SUB2, ha="center", va="center", fontsize=8.2, style="italic", color="#111111")

# left panel
LX = 160
O = 2
ax.text(LX, 396+O, HEAD, va="center", fontsize=11.9, fontweight="bold")
for yy, t in zip([469,500,532,563], TAGLINE):
    ax.text(LX, yy+O, t, va="center", fontsize=10.0)
ax.text(LX, 693+O, TOTAL, va="center", fontsize=11.0, fontweight="bold")
ax.plot([LX, 764], [733, 733], color="#888888", lw=1.0)
ax.text(LX, 798+O, TOP_HEAD, va="center", fontsize=9.1)
for yy, t in zip([855,898,940], TOP3):
    ax.text(LX, yy+O, t, va="center", fontsize=8.1, style="italic", color="#111111")
ax.text(LX, 1037+O, KW_HEAD, va="center", fontsize=9.0, fontweight="bold")
for yy, t in zip([1078,1106,1130,1157,1183,1208,1233], KEYWORDS):
    ax.text(LX, yy+O, t, va="center", fontsize=8.2, color="#111111")
ax.text(LX, 1391+O, DESC_HEAD, va="center", fontsize=9.0, fontweight="bold")
for i, t in enumerate(DESC):
    ax.text(LX, 1430 + O + i*26.6, t, va="center", fontsize=8.2, color="#444444")

# legend
handles = [Patch(facecolor=c, edgecolor="none", label=l) for c, l in zip(COLORS, CATEGORIES)]
leg = ax.legend(handles=handles, title="Referencias de colores", frameon=False, alignment="left",
                loc="upper left", bbox_to_anchor=(3226, 1968), bbox_transform=ax.transData,
                fontsize=9.2, title_fontsize=10, borderpad=0, borderaxespad=0, handlelength=1.88,
                handleheight=0.6, handletextpad=0.85, labelspacing=0.48)
leg._legend_box.sep = 15

fig.savefig("out.png", dpi=200, facecolor="white")
